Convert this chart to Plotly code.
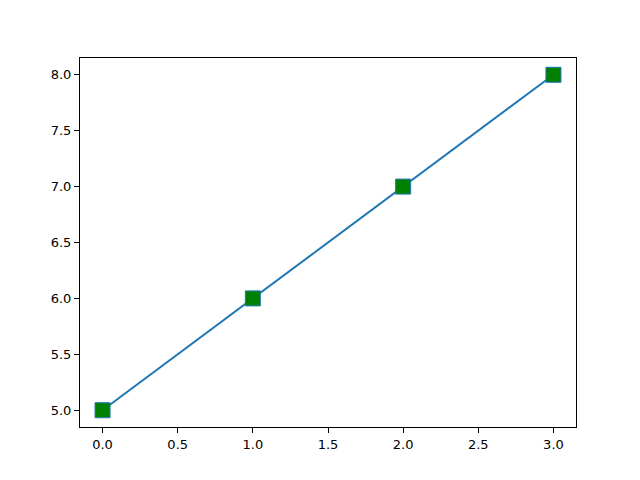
import plotly.graph_objects as go

x_vals = [0, 1, 2, 3]
y_vals = [5, 6, 7, 8]

fig = go.Figure()
fig.add_trace(go.Scatter(
    x=x_vals, y=y_vals, mode="lines+markers",
    line=dict(color="#1f77b4", width=2),
    marker=dict(symbol="square", size=15, color="green",
                line=dict(color="#1f77b4", width=1)),
    showlegend=False,
))

axis_common = dict(
    showgrid=False, zeroline=False, showline=True, mirror=True,
    linecolor="black", linewidth=1, ticks="outside", ticklen=5,
    tickcolor="black", tickfont=dict(family="DejaVu Sans", size=13, color="black"),
)
fig.update_xaxes(range=[-0.15, 3.15], tickvals=[0, 0.5, 1, 1.5, 2, 2.5, 3],
                 ticktext=["0.0", "0.5", "1.0", "1.5", "2.0", "2.5", "3.0"], **axis_common)
fig.update_yaxes(range=[4.85, 8.15], tickvals=[5, 5.5, 6, 6.5, 7, 7.5, 8],
                 ticktext=["5.0", "5.5", "6.0", "6.5", "7.0", "7.5", "8.0"], **axis_common)
fig.update_layout(
    width=640, height=480,
    margin=dict(l=72, r=72, t=50, b=61),
    plot_bgcolor="white", paper_bgcolor="white",
)
fig.write_html("out.html")
